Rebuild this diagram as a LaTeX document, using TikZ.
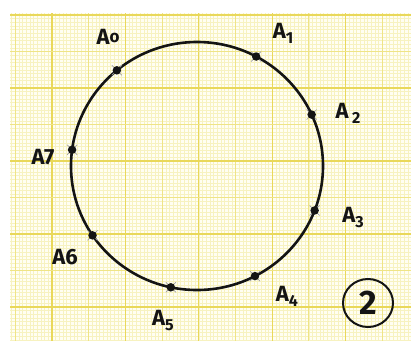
\documentclass[tikz,border=0pt]{standalone}
\usepackage{fontspec}
\setmainfont{Fira Sans}
\usepackage{xcolor}
\usetikzlibrary{shapes.geometric, calc}

\definecolor{paper}{HTML}{FFFEF2}
\definecolor{fineline}{HTML}{F7F2C0}
\definecolor{midline}{HTML}{EFE486}
\definecolor{boldline}{HTML}{E9D85A}
\definecolor{ink}{HTML}{141414}
\definecolor{pencil}{HTML}{A0A0A0}

\newcommand{\lowidx}[1]{\raisebox{-5pt}{\fontsize{16}{16}\selectfont #1}}

\begin{document}
\begin{tikzpicture}[x=1pt, y=-1pt,
   dot/.style={circle, fill=ink, inner sep=0pt, minimum size=8.5pt},
   lbl/.style={font=\fontsize{22}{22}\selectfont\bfseries, text=ink, inner sep=0pt},
   ring/.style={draw=ink, line width=2.6pt},
   tick/.style={draw=pencil, line width=0.7pt}]
  \useasboundingbox (0,0) rectangle (411,341);
  % the sheet of graph paper
  \fill[white] (0,0) rectangle (411,341);
  \fill[paper] (10,13) rectangle (411,341);
  \begin{scope}
    \clip (10,13) rectangle (411,341);
    \foreach \i in {-2,...,108}
      \draw[fineline, line width=0.5pt] ({15.3+3.67*\i},13) -- ++(0,328);
    \foreach \i in {-1,...,90}
      \draw[fineline, line width=0.5pt] (10,{15+3.65*\i}) -- ++(401,0);
    \foreach \k in {0,2,...,10}
      \draw[midline, line width=1pt] ({15.3+36.7*\k},13) -- ++(0,328);
    \foreach \k in {1,3,...,9}
      \draw[boldline, line width=1.3pt] ({15.3+36.7*\k},13) -- ++(0,328);
    \foreach \k in {1,3,...,7}
      \draw[midline, line width=1pt] (10,{15+36.5*\k}) -- ++(401,0);
    \foreach \k in {0,2,...,8}
      \draw[boldline, line width=1.3pt] (10,{15+36.5*\k}) -- ++(401,0);
  \end{scope}

  % the circle and its eight points
  \coordinate (c) at (197,166);
  \draw[ring] (c) ellipse [x radius=126, y radius=124];
  \foreach \p/\a in {A0/-129.5, A1/-62, A2/-24.5, A3/21, A4/62.6, A5/102, A6/146, A7/-172.5} {
    \coordinate (\p) at ($(c)+(\a:126 and 124)$);
    \draw[tick] ($(\p)+(-5,-5)$) -- ($(\p)+(5,5)$);
    \draw[tick] ($(\p)+(-5,5)$) -- ($(\p)+(5,-5)$);
    \node[dot] (d\p) at (\p) {};
  }

  % labels
  \node[lbl] (l0) at (108,37) {A\raisebox{2pt}{\fontsize{17}{17}\selectfont o}};
  \node[lbl] (l1) at (283,33) {A\lowidx{1}};
  \node[lbl] (l2) at (348,113) {A\,\lowidx{2}};
  \node[lbl] (l3) at (353,218) {A\lowidx{3}};
  \node[lbl] (l4) at (287,296) {A\lowidx{4}};
  \node[lbl] (l5) at (163,321) {A\lowidx{5}};
  \node[lbl] (l6) at (65,257) {A6};
  \node[lbl] (l7) at (43,157) {A7};

  % sheet number
  \node[ellipse, draw=ink, line width=2pt, minimum width=50pt, minimum height=48pt,
        inner sep=0pt, font=\fontsize{34}{34}\selectfont\bfseries, text=ink] (num) at (368,303) {2};
\end{tikzpicture}
\end{document}
